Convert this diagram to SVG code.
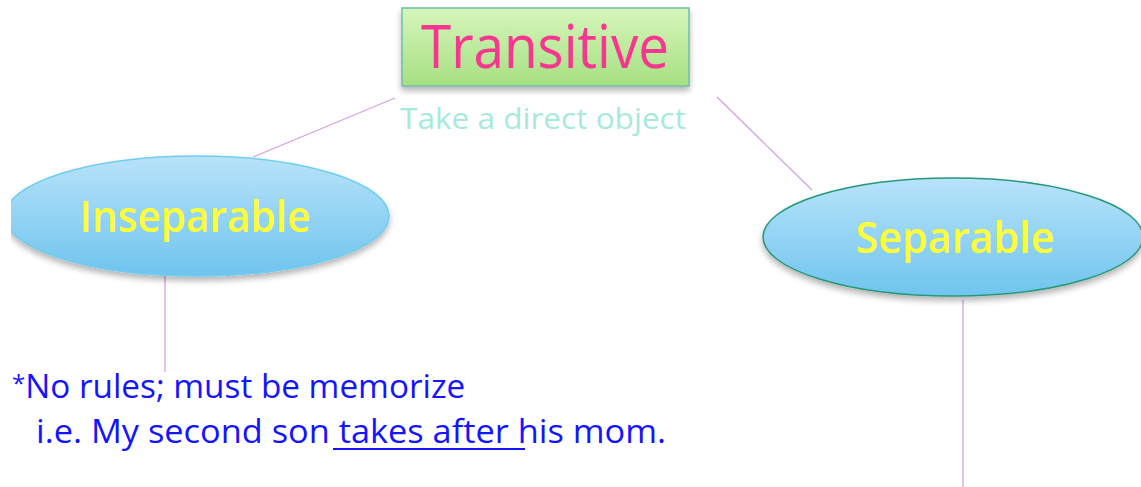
<svg xmlns="http://www.w3.org/2000/svg" width="1141" height="487" viewBox="0 0 1141 487">
  <style>
    .lbl { font-family: "Open Sans", "DejaVu Sans", sans-serif; }
    .conn { stroke: #d6a2e2; stroke-width: 1.3; fill: none; }
    .oval-text { fill: #fdfd3a; font-weight: 600; font-size: 44px; }
    .note { fill: #1414ff; font-size: 32px; }
  </style>
  <defs>
    <linearGradient id="ovalFill" x1="0" y1="0" x2="0" y2="1">
      <stop offset="0" stop-color="#b8e3fa"/>
      <stop offset="1" stop-color="#6fc4ee"/>
    </linearGradient>
    <linearGradient id="boxFill" x1="0" y1="0" x2="0" y2="1">
      <stop offset="0" stop-color="#d6f6bb"/>
      <stop offset="1" stop-color="#a6df82"/>
    </linearGradient>
    <filter id="shadow" x="-10%" y="-20%" width="120%" height="150%">
      <feGaussianBlur in="SourceAlpha" stdDeviation="3"/>
      <feOffset dx="0" dy="4" result="b"/>
      <feComponentTransfer><feFuncA type="linear" slope="0.3"/></feComponentTransfer>
      <feMerge><feMergeNode/><feMergeNode in="SourceGraphic"/></feMerge>
    </filter>
    <clipPath id="leftEdge"><rect x="11" y="0" width="1130" height="487"/></clipPath>
  </defs>
  <rect width="1141" height="487" fill="#ffffff"/>

  <!-- connectors between the topic box, the two ovals and the notes -->
  <g id="connectors">
    <line class="conn" x1="253" y1="157" x2="395" y2="98"/>
    <line class="conn" x1="717" y1="97" x2="812" y2="190"/>
    <line class="conn" x1="165" y1="276" x2="165" y2="372"/>
    <line class="conn" x1="963" y1="300" x2="963" y2="487"/>
  </g>

  <g id="transitive">
    <rect x="402" y="8" width="287" height="78" fill="url(#boxFill)" stroke="#6cbfa8" stroke-width="1.5" filter="url(#shadow)"/>
    <text class="lbl" x="545" y="68" text-anchor="middle" font-size="60" fill="#f7378f" textLength="248" lengthAdjust="spacingAndGlyphs">Transitive</text>
    <text class="lbl" x="543" y="129" text-anchor="middle" font-size="30" fill="#a6eadb" textLength="286" lengthAdjust="spacingAndGlyphs">Take a direct object</text>
  </g>

  <g id="inseparable" clip-path="url(#leftEdge)">
    <ellipse cx="197" cy="216" rx="192" ry="60" fill="url(#ovalFill)" stroke="#6fcdee" stroke-width="1.5" filter="url(#shadow)"/>
    <text class="lbl oval-text" x="195" y="232" text-anchor="middle" textLength="231" lengthAdjust="spacingAndGlyphs">Inseparable</text>
  </g>

  <g id="separable">
    <ellipse cx="953" cy="237" rx="190" ry="59" fill="url(#ovalFill)" stroke="#27997a" stroke-width="1.5" filter="url(#shadow)"/>
    <text class="lbl oval-text" x="955" y="253" text-anchor="middle" textLength="199" lengthAdjust="spacingAndGlyphs">Separable</text>
  </g>

  <g id="inseparable-note">
    <text class="lbl note" x="12" y="398"><tspan font-size="24" dy="-6">*</tspan><tspan dy="6" textLength="440" lengthAdjust="spacingAndGlyphs">No rules; must be memorize</tspan></text>
    <text class="lbl note" x="36" y="443" textLength="630" lengthAdjust="spacingAndGlyphs">i.e. My second son  takes after his mom.</text>
    <line x1="333" y1="449" x2="525" y2="449" stroke="#1414ff" stroke-width="2"/>
  </g>
</svg>
